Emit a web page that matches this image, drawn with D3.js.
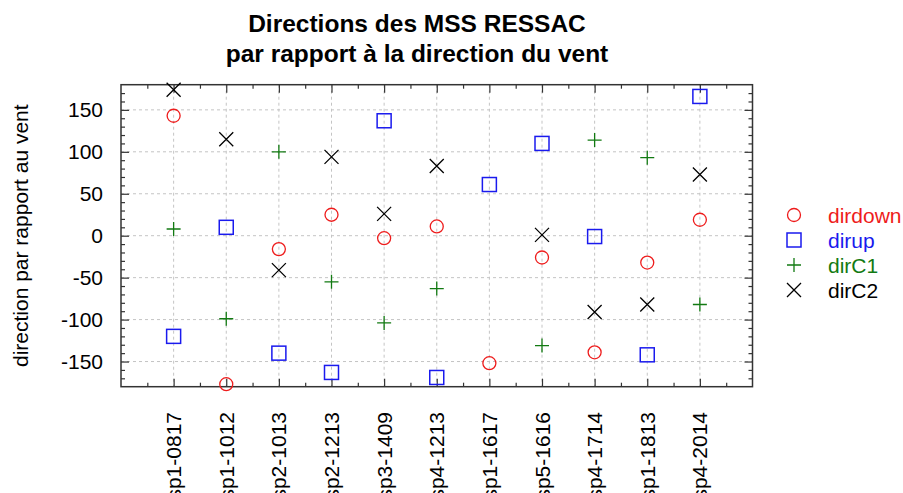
<!DOCTYPE html>
<html>
<head>
<meta charset="utf-8">
<script src="https://cdn.jsdelivr.net/npm/d3@7"></script>
<style>
  html, body { margin: 0; padding: 0; background: #fff; }
  svg { display: block; font-family: "Liberation Sans", Arial, sans-serif; }
</style>
</head>
<body>
<svg id="chart" width="903" height="493"></svg>
<script>
// Categories (MSS runs) and directions relative to wind, in degrees
const categories = ["sp1-0817", "sp1-1012", "sp2-1013", "sp2-1213", "sp3-1409",
  "sp4-1213", "sp1-1617", "sp5-1616", "sp4-1714", "sp1-1813", "sp4-2014"];
const dirdown = [143, -177, -16, 25, -3, 11, -152, -26, -139, -32, 19];
const dirup   = [-120, 10, -140, -163, 137, -169, 61, 110, -1, -142, 166];
const dirC1   = [8, -99, 100, -55, -104, -63, null, -131, 114, 93, -82];
const dirC2   = [174, 115, -41, 94, 26, 83, null, 1, -91, -82, 73];
const yTicks  = [-150, -100, -50, 0, 50, 100, 150];

const series = [
  { name: "dirdown", values: dirdown, color: "#ee1c1c", shape: "circle" },
  { name: "dirup",   values: dirup,   color: "#1a1aee", shape: "square" },
  { name: "dirC1",   values: dirC1,   color: "#127a12", shape: "plus" },
  { name: "dirC2",   values: dirC2,   color: "#000000", shape: "cross" }
];

const svg = d3.select("#chart");
const plotL = 121, plotR = 752.5, plotT = 84.7, plotB = 386.7;
const fs = 21;

const x = d3.scaleLinear().domain([0, categories.length + 1]).range([plotL, plotR]);
const y = d3.scaleLinear().domain([-180, 180]).range([plotB, plotT]);

// Grid
const grid = svg.append("g").attr("stroke", "#c4c4c4").attr("stroke-width", 1)
  .attr("stroke-dasharray", "3,3");
categories.forEach((c, i) => {
  grid.append("line").attr("x1", x(i + 1)).attr("x2", x(i + 1))
    .attr("y1", plotT).attr("y2", plotB);
});
yTicks.forEach(v => {
  grid.append("line").attr("x1", plotL).attr("x2", plotR)
    .attr("y1", y(v)).attr("y2", y(v));
});

// Inward ticks on all four sides
const tickColor = "#333";
const minorY = d3.range(-170, 180, 10).filter(v => v % 50 !== 0);
const majX = d3.range(1, categories.length + 1);
const minX = d3.range(0.5, categories.length + 1, 1);

function addAxis(ax, tx, ty) {
  const g = svg.append("g").attr("transform", `translate(${tx},${ty})`).call(ax);
  g.select(".domain").remove();
  g.selectAll("line").attr("stroke", tickColor).attr("stroke-width", 1.2);
}
addAxis(d3.axisRight(y).tickValues(yTicks).tickSize(8).tickFormat(""), plotL, 0);
addAxis(d3.axisRight(y).tickValues(minorY).tickSize(4).tickFormat(""), plotL, 0);
addAxis(d3.axisLeft(y).tickValues(yTicks).tickSize(8).tickFormat(""), plotR, 0);
addAxis(d3.axisLeft(y).tickValues(minorY).tickSize(4).tickFormat(""), plotR, 0);
addAxis(d3.axisTop(x).tickValues(majX).tickSize(8).tickFormat(""), 0, plotB);
addAxis(d3.axisTop(x).tickValues(minX).tickSize(4).tickFormat(""), 0, plotB);
addAxis(d3.axisBottom(x).tickValues(majX).tickSize(8).tickFormat(""), 0, plotT);
addAxis(d3.axisBottom(x).tickValues(minX).tickSize(4).tickFormat(""), 0, plotT);

// Frame
svg.append("rect").attr("x", plotL).attr("y", plotT)
  .attr("width", plotR - plotL).attr("height", plotB - plotT)
  .attr("fill", "none").attr("stroke", tickColor).attr("stroke-width", 1.5);

// Y tick labels
svg.append("g").selectAll("text").data(yTicks).join("text")
  .attr("x", 103).attr("y", d => y(d)).attr("dy", "0.36em")
  .attr("text-anchor", "end").attr("font-size", fs).attr("fill", "#000")
  .text(d => d);

// X category labels, rotated
svg.append("g").selectAll("text").data(categories).join("text")
  .attr("transform", (d, i) => `translate(${x(i + 1)},412) rotate(-90)`)
  .attr("dy", "0.36em").attr("text-anchor", "end")
  .attr("font-size", fs).attr("fill", "#000").text(d => d);

// Y axis title
svg.append("text")
  .attr("transform", `translate(28,${(plotT + plotB) / 2}) rotate(-90)`)
  .attr("text-anchor", "middle")
  .attr("font-size", fs).attr("fill", "#000")
  .text("direction par rapport au vent");

// Title
const title = svg.append("text").attr("text-anchor", "middle")
  .attr("font-size", 24.5).attr("font-weight", "bold").attr("fill", "#000");
title.append("tspan").attr("x", 417).attr("y", 32).text("Directions des MSS RESSAC");
title.append("tspan").attr("x", 417).attr("y", 62).text("par rapport à la direction du vent");

// Marker drawing
function marker(g, shape, color, cx, cy) {
  const s = 7;
  if (shape === "circle") {
    g.append("circle").attr("cx", cx).attr("cy", cy).attr("r", 6.5)
      .attr("fill", "none").attr("stroke", color).attr("stroke-width", 1.3);
  } else if (shape === "square") {
    g.append("rect").attr("x", cx - s).attr("y", cy - s).attr("width", 2 * s).attr("height", 2 * s)
      .attr("fill", "none").attr("stroke", color).attr("stroke-width", 1.5);
  } else if (shape === "plus") {
    g.append("path").attr("d", `M${cx - s},${cy}H${cx + s}M${cx},${cy - s}V${cy + s}`)
      .attr("stroke", color).attr("stroke-width", 1.3).attr("fill", "none");
  } else {
    g.append("path").attr("d", `M${cx - s},${cy - s}L${cx + s},${cy + s}M${cx - s},${cy + s}L${cx + s},${cy - s}`)
      .attr("stroke", color).attr("stroke-width", 1.3).attr("fill", "none");
  }
}

const marks = svg.append("g");
series.forEach(s => {
  s.values.forEach((v, i) => {
    if (v === null) return;
    marker(marks, s.shape, s.color, x(i + 1), y(v));
  });
});

// Legend
const legend = svg.append("g");
series.forEach((s, i) => {
  const ly = 215 + i * 25;
  marker(legend, s.shape, s.color, 794, ly);
  legend.append("text").attr("x", 828).attr("y", ly).attr("dy", "0.36em")
    .attr("font-size", fs).attr("fill", s.color).text(s.name);
});
</script>
</body>
</html>
